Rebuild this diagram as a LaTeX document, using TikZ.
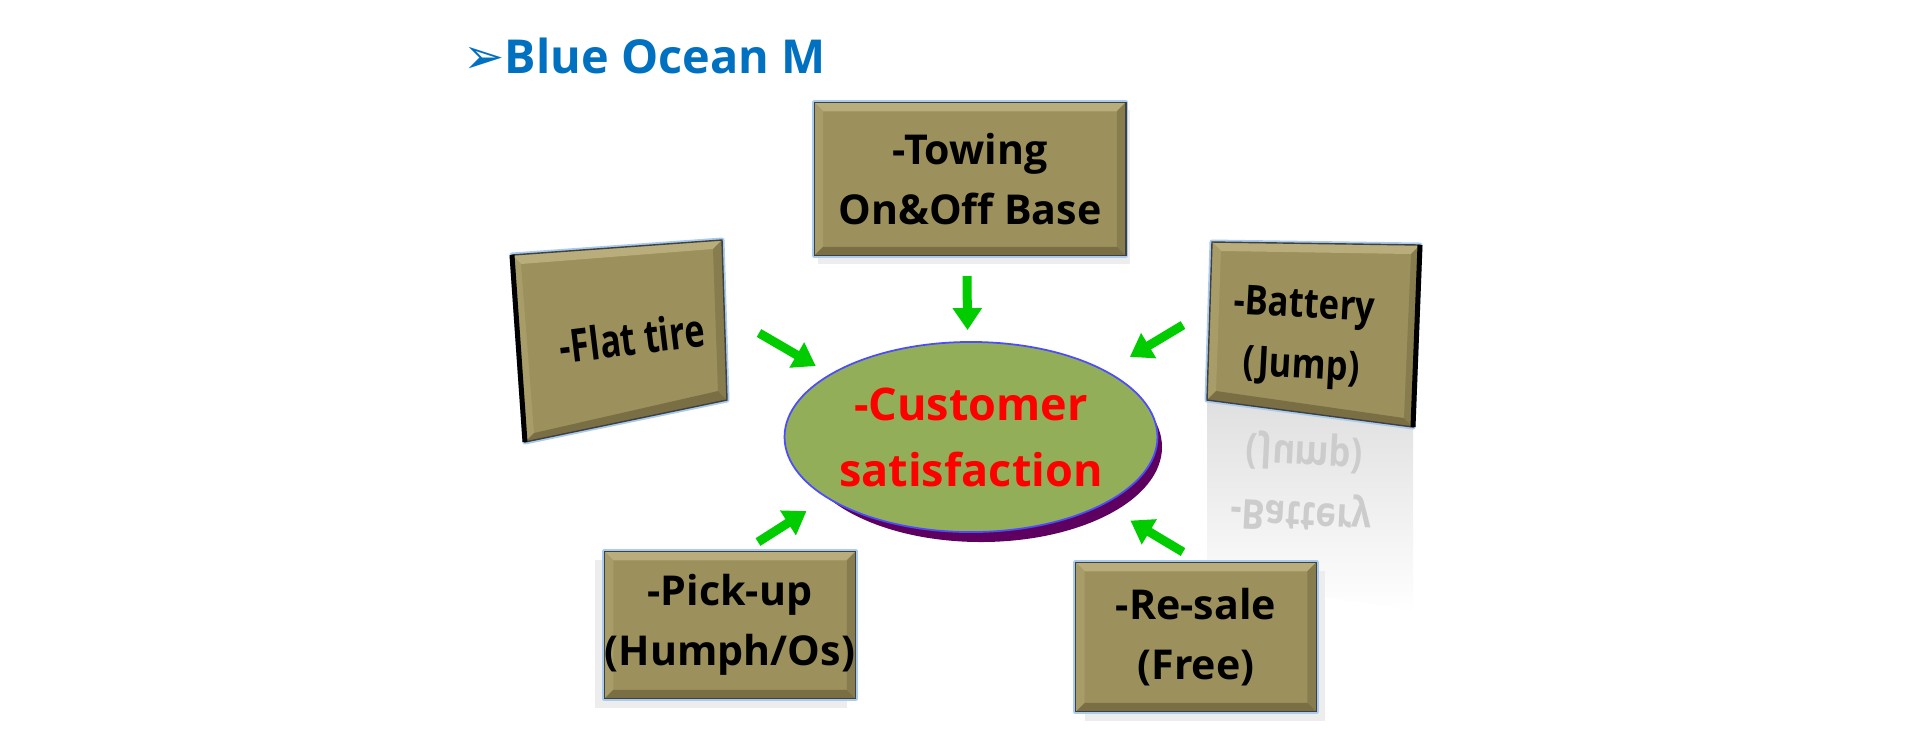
\documentclass[tikz,border=0pt]{standalone}
\usepackage{fontspec}
\setmainfont{Open Sans}
\newfontfamily\dingfont{DejaVu Sans}
\usetikzlibrary{arrows.meta,positioning,calc,shapes.geometric,backgrounds,fadings}

\definecolor{titleblue}{HTML}{0070C0}
\definecolor{khaki}{HTML}{9C905C}
\definecolor{khakitop}{HTML}{B8AD7B}
\definecolor{khakileft}{HTML}{A89C68}
\definecolor{khakiright}{HTML}{877C4E}
\definecolor{khakibot}{HTML}{7A6F44}
\definecolor{glowblue}{HTML}{A9CBEE}
\definecolor{ovalgreen}{HTML}{93AE58}
\definecolor{ovalpurple}{HTML}{5E0060}
\definecolor{arrowgreen}{HTML}{00CC00}

% bevelled khaki panel: top left, top right, bottom right, bottom left
\newcommand{\bevelbox}[4]{%
  \draw[boxglow] (#1) -- (#2) -- (#3) -- (#4) -- cycle;
  \fill[boxface] (#1) -- (#2) -- (#3) -- (#4) -- cycle;
  \fill[bevtop] (#1) -- (#2) -- ($(#2)+(-9,9)$) -- ($(#1)+(9,9)$) -- cycle;
  \fill[bevleft] (#1) -- ($(#1)+(9,9)$) -- ($(#4)+(9,-9)$) -- (#4) -- cycle;
  \fill[bevright] (#2) -- ($(#2)+(-9,9)$) -- ($(#3)+(-9,-9)$) -- (#3) -- cycle;
  \fill[bevbot] (#4) -- ($(#4)+(9,-9)$) -- ($(#3)+(-9,-9)$) -- (#3) -- cycle;
  \draw[boxedge] (#1) -- (#2) -- (#3) -- (#4) -- cycle;
}

\begin{document}
\begin{tikzpicture}[x=0.01cm,y=-0.01cm,
  lbl/.style={align=center,inner sep=0pt,font=\fontsize{11.7}{17.1}\selectfont\bfseries},
  panel/.style={lbl,minimum width=2.4cm,minimum height=1.47cm},
  boxglow/.style={draw=glowblue,line width=0.05cm,line join=round},
  boxface/.style={fill=khaki},
  bevtop/.style={fill=khakitop},
  bevleft/.style={fill=khakileft},
  bevright/.style={fill=khakiright},
  bevbot/.style={fill=khakibot},
  boxedge/.style={draw=black!75,line width=0.4pt},
  softshadow/.style={fill=black!7},
  garrow/.style={draw=arrowgreen,line width=0.09cm,-{Triangle[width=0.28cm,length=0.22cm]}},
  oval/.style={ellipse,minimum width=3.62cm,minimum height=1.9cm,fill=ovalgreen,draw=blue!70,line width=0.5pt,
    align=center,inner sep=0pt,text=red,font=\fontsize{12.8}{18.8}\selectfont\bfseries}
]
\useasboundingbox (0,0) rectangle (1920,750);

\node[anchor=base west,inner sep=0pt,text=titleblue,font=\fontsize{13.3}{17}\selectfont\bfseries] (title) at (463,73)
  {{\dingfont\fontsize{14}{17}\selectfont ➢}Blue Ocean M};

\node[panel,minimum width=3.1cm,minimum height=1.52cm] (tow) at (970,179) {-Towing\\On\&Off Base};
\node[panel,minimum width=2.44cm,minimum height=1.46cm] (pick) at (730,625) {-Pick-up\\(Humph/Os)};
\node[panel,minimum width=2.39cm,minimum height=1.48cm] (resale) at (1196,637) {-Re-sale\\(Free)};

\coordinate (flat-tl) at (512,255);
\coordinate (flat-tr) at (722,240);
\coordinate (flat-br) at (727,400);
\coordinate (flat-bl) at (525,442);
\node[lbl,rotate=7,xscale=0.75,font=\fontsize{13}{17}\selectfont\bfseries] (flat) at (632,338) {-Flat tire};

\coordinate (bat-tl) at (1212,242);
\coordinate (bat-tr) at (1420,245);
\coordinate (bat-br) at (1413,427);
\coordinate (bat-bl) at (1207,400);
\node[lbl,rotate=-3,xscale=0.84] (bat) at (1303,338) {-Battery\\(Jump)};

\node[oval] (cs) at (971,437) {-Customer\\satisfaction};

\begin{scope}[on background layer]
  \fill[white] (0,0) rectangle (1920,750);
  % reflection under the battery panel
  \fill[black!12,path fading=south] (bat-bl) -- (bat-br) -- (1413,610) -- (1207,580) -- cycle;
  \node[lbl,yscale=-1,rotate=3,xscale=0.84,text=black!20] (batrefl) at (1303,482) {-Battery\\(Jump)};
  \fill[softshadow] ($(tow.north west)+(4,8)$) rectangle ($(tow.south east)+(4,8)$);
  \fill[softshadow] ($(pick.north west)+(-9,9)$) rectangle ($(pick.south east)+(-9,9)$);
  \fill[softshadow] ($(resale.north west)+(9,9)$) rectangle ($(resale.south east)+(9,9)$);
  \bevelbox{tow.north west}{tow.north east}{tow.south east}{tow.south west}
  \bevelbox{pick.north west}{pick.north east}{pick.south east}{pick.south west}
  \bevelbox{resale.north west}{resale.north east}{resale.south east}{resale.south west}
  \bevelbox{flat-tl}{flat-tr}{flat-br}{flat-bl}
  \draw[black,line width=0.05cm] (flat-tl) -- (flat-bl);
  \bevelbox{bat-tl}{bat-tr}{bat-br}{bat-bl}
  \draw[black,line width=0.05cm] (bat-tr) -- (bat-br);
  \fill[ovalpurple] ($(cs.center)+(10,10)$) ellipse [x radius=181,y radius=95];
\end{scope}

\coordinate (tow-tail) at (967,276);
\coordinate (flat-tail) at (759,333);
\coordinate (bat-tail) at (1183,325);
\coordinate (pick-tail) at (758,542);
\coordinate (resale-tail) at (1183,552);
\draw[garrow,shorten >=0.11cm] (tow-tail) -- (cs.92);
\draw[garrow,shorten >=0.16cm] (flat-tail) -- (cs.156);
\draw[garrow,shorten >=0.27cm] (bat-tail) -- (cs.26);
\draw[garrow,shorten >=0.24cm] (pick-tail) -- (cs.203.5);
\draw[garrow,shorten >=0.31cm] (resale-tail) -- (cs.333);
\end{tikzpicture}
\end{document}
